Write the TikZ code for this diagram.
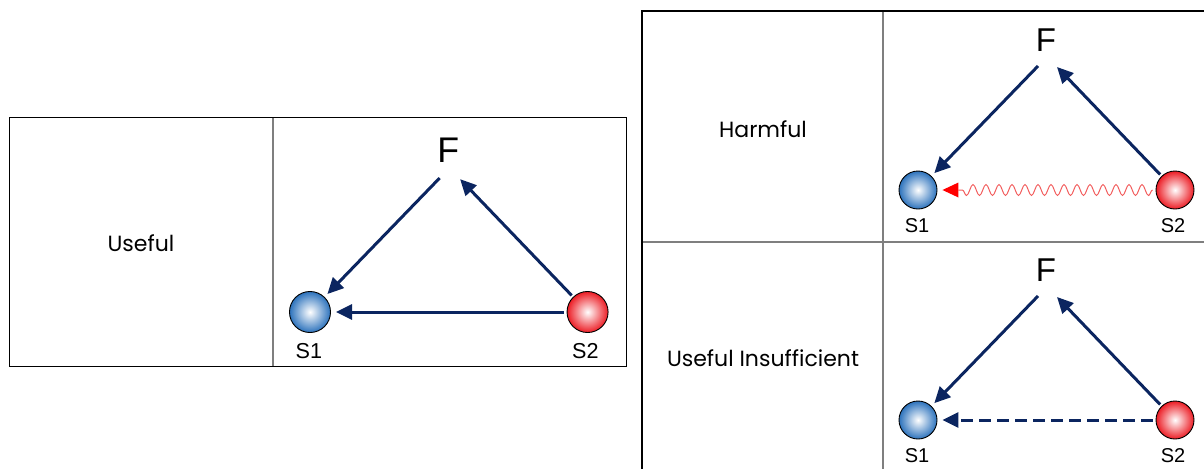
\documentclass[tikz,border=0pt]{standalone}
\usepackage{fontspec}
\setmainfont{Liberation Sans}
\newfontfamily\labelfont{Poppins}
\usetikzlibrary{arrows.meta,decorations.pathmorphing,shadings}
\definecolor{navy}{HTML}{0B2560}
\definecolor{ballblue}{HTML}{2C72BC}
\definecolor{ballred}{HTML}{EC1C24}
\definecolor{wavered}{HTML}{F25C5C}
\definecolor{gridgray}{HTML}{7F7F7F}
\tikzset{
  x=1pt, y=-1pt,
  ballnode/.style={circle, minimum size=38pt, inner sep=0pt, draw=black, line width=0.9pt},
  blueball/.style={ballnode, inner color=white, outer color=ballblue},
  redball/.style={ballnode, inner color=white, outer color=ballred},
  flabel/.style={font=\fontsize{33}{36}\selectfont, inner sep=0pt},
  slabel/.style={font=\fontsize{20}{22}\selectfont, inner sep=0pt},
  rowlabel/.style={font=\labelfont\fontsize{22}{26}\selectfont, inner sep=0pt},
  conn/.style={draw=navy, line width=3pt, -{Triangle[length=16pt,width=15pt]}},
  outerline/.style={draw=black, line width=1.3pt},
  innerline/.style={draw=gridgray, line width=2pt},
  triad/.pic={
    \node[blueball] (-s1) at (0,0) {};
    \node[redball] (-s2) at (257,0) {};
    \node[flabel] (-f) at (128,-150) {F};
    \coordinate (-fl) at (120,-124);
    \coordinate (-fr) at (139,-123);
    \node[slabel] (-l1) at (-1,36) {S1};
    \node[slabel] (-l2) at (255,36) {S2};
  }
}
\begin{document}
\begin{tikzpicture}
\useasboundingbox (0,0) rectangle (1204,469);
% left table
\draw[innerline] (273,117.5) coordinate (lt) -- (273,366.5) coordinate (lb);
\draw[outerline] (9.5,117.5) rectangle (626.5,366.5);
\node[rowlabel] (useful) at (141,243) {Useful};
% right table
\draw[innerline] (883,11) coordinate (rt) -- (883,469) coordinate (rb);
\draw[innerline] (642,242) coordinate (hl) -- (1204,242) coordinate (hr);
\draw[outerline] (1204,11) coordinate (tr) -- (642,11) coordinate (tl) -- (642,469) coordinate (bl);
\node[rowlabel] (harmful) at (763,129) {Harmful};
\node[rowlabel] (insuff) at (763,358) {Useful Insufficient};
% triads
\pic[scale=1.08, transform shape] (L) at (310,312) {triad};
\pic (H) at (918,190) {triad};
\pic (U) at (918,420) {triad};
% connectors
\foreach \p in {L,H,U}{
  \draw[conn, shorten >=4pt] (\p-fl) -- (\p-s1);
  \draw[conn, shorten <=2pt] (\p-s2) -- (\p-fr);
}
\draw[conn, shorten >=5pt, shorten <=3pt] (L-s2) -- (L-s1);
\draw[conn, dash pattern=on 11.5pt off 6.5pt, shorten >=5pt, shorten <=3pt] (U-s2) -- (U-s1);
\coordinate (wend) at ([xshift=21pt]H-s1.east);
\draw[wavered, line width=1pt, decorate, decoration={snake, segment length=13pt, amplitude=5.5pt}] ([xshift=-3pt]H-s2.west) -- (wend);
\draw[draw=none, fill=red] (wend) ++(0,-7.5) -- ++(0,15) -- ([xshift=5pt]H-s1.east) -- cycle;
\end{tikzpicture}
\end{document}
